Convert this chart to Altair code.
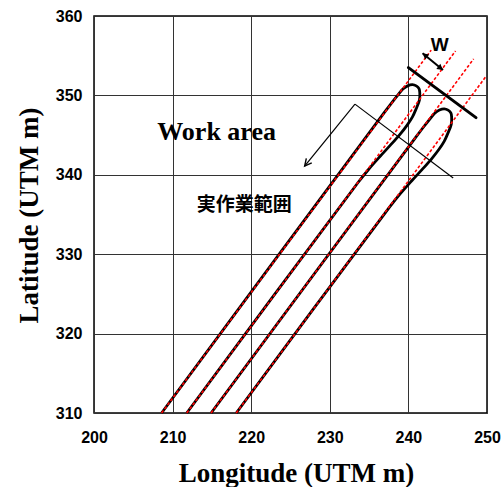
import altair as alt
import pandas as pd

X_TICKS = [200, 210, 220, 230, 240, 250]
Y_TICKS = [310, 320, 330, 340, 350, 360]

# Driven path, pass A: up the first swath, bulb turn in the headland, down the second
pass_a_x = [208.6, 236.9, 237.9, 238.7, 239.3, 239.9, 240.5, 241.0, 241.35, 241.45, 241.4,
            240.98, 240.52, 239.8, 238.85, 237.68, 236.38, 234.95, 233.57, 211.8]
pass_a_y = [310.0, 347.8, 349.1, 350.1, 350.8, 351.2, 351.35, 351.2, 350.85, 350.3, 349.4,
            348.3, 347.3, 346.2, 345.0, 343.7, 342.3, 340.7, 339.0, 310.0]

# Driven path, pass B: up the third swath, turn, down the fourth
pass_b_x = [214.9, 240.95, 241.95, 242.75, 243.35, 243.95, 244.55, 245.05, 245.4, 245.5, 245.45,
            245.03, 244.57, 243.85, 242.9, 241.73, 240.43, 239.0, 237.62, 218.1]
pass_b_y = [310.0, 344.75, 346.05, 347.05, 347.75, 348.15, 348.3, 348.15, 347.8, 347.25, 346.35,
            345.25, 344.25, 343.15, 341.95, 340.65, 339.25, 337.65, 335.95, 310.0]

# Planned guidance lines (one per swath)
guide_x_start = [208.6, 211.8, 214.9, 218.1]
guide_y_start = [310.0, 310.0, 310.0, 310.0]
guide_x_end = [242.9, 246.0, 248.3, 249.8]
guide_y_end = [355.7, 355.6, 354.6, 352.3]

# Field edge at the headland
edge_x = [240.0, 248.6]
edge_y = [353.5, 347.2]

# Swath-width marker
width_x = [241.8, 244.4]
width_y = [355.3, 353.2]
width_label = "W"
width_label_pos = (244.0, 356.3)

# Work-area pointer: a cross line and an arrow toward the label
pointer_x = [233.2, 245.7, 226.8]
pointer_y = [348.9, 339.6, 341.1]

label_en = "Work area"
label_en_pos = (215.6, 344.4)
label_ja = "実作業範囲"
label_ja_pos = (219.1, 336.2)

xs = alt.Scale(domain=[200, 250], nice=False, zero=False)
ys = alt.Scale(domain=[310, 360], nice=False, zero=False)

x_axis = alt.Axis(values=X_TICKS, title="Longitude (UTM m)", titleX=202, titleY=68,
                  titleBaseline="alphabetic", titleAlign="center", labelPadding=16)
y_axis = alt.Axis(values=Y_TICKS, title="Latitude (UTM m)", titleX=-57, titleY=199,
                  titleBaseline="alphabetic", titleAlign="center", labelPadding=12)

paths = pd.DataFrame({
    "x": pass_a_x + pass_b_x,
    "y": pass_a_y + pass_b_y,
    "step": list(range(len(pass_a_x))) + list(range(len(pass_b_x))),
    "run": ["A"] * len(pass_a_x) + ["B"] * len(pass_b_x),
})

guides = pd.DataFrame({"x": guide_x_start, "y": guide_y_start,
                       "x2": guide_x_end, "y2": guide_y_end})

edge = pd.DataFrame({"x": [edge_x[0]], "y": [edge_y[0]], "x2": [edge_x[1]], "y2": [edge_y[1]]})

pointer = pd.DataFrame({"x": [pointer_x[0], pointer_x[0]], "y": [pointer_y[0], pointer_y[0]],
                        "x2": [pointer_x[1], pointer_x[2]], "y2": [pointer_y[1], pointer_y[2]]})
pointer_head = pd.DataFrame({"x": [pointer_x[2]], "y": [pointer_y[2]], "a": [219]})

width_seg = pd.DataFrame({"x": [width_x[0]], "y": [width_y[0]], "x2": [width_x[1]], "y2": [width_y[1]]})
width_heads = pd.DataFrame({"x": width_x, "y": width_y, "a": [308, 128]})

texts = pd.DataFrame({
    "x": [width_label_pos[0], label_en_pos[0]],
    "y": [width_label_pos[1], label_en_pos[1]],
    "t": [width_label, label_en],
})
text_ja = pd.DataFrame({"x": [label_ja_pos[0]], "y": [label_ja_pos[1]], "t": [label_ja]})

base_x = alt.X("x:Q", scale=xs, axis=x_axis)
base_y = alt.Y("y:Q", scale=ys, axis=y_axis)

path_layer = alt.Chart(paths).mark_line(
    interpolate="catmull-rom", color="black", strokeWidth=2.8, strokeJoin="round"
).encode(x=base_x, y=base_y, detail="run:N", order="step:Q")

guide_layer = alt.Chart(guides).mark_rule(
    color="#ff0000", strokeWidth=1.6, strokeDash=[3, 2]
).encode(x=base_x, y=base_y, x2="x2:Q", y2="y2:Q")

edge_layer = alt.Chart(edge).mark_rule(
    color="black", strokeWidth=3, strokeCap="round"
).encode(x=base_x, y=base_y, x2="x2:Q", y2="y2:Q")

pointer_layer = alt.Chart(pointer).mark_rule(color="black", strokeWidth=1.2).encode(
    x=base_x, y=base_y, x2="x2:Q", y2="y2:Q")

pointer_head_layer = alt.Chart(pointer_head).mark_point(
    shape="M-0.45,0.9L0,0L0.45,0.9", filled=False, color="black", strokeWidth=1.4,
    size=240, opacity=1
).encode(x=base_x, y=base_y, angle=alt.Angle("a:Q", scale=None))

width_layer = alt.Chart(width_seg).mark_rule(color="black", strokeWidth=2).encode(
    x=base_x, y=base_y, x2="x2:Q", y2="y2:Q")

width_head_layer = alt.Chart(width_heads).mark_point(
    shape="M0,0L0.55,1L-0.55,1Z", filled=True, color="black", size=140, opacity=1
).encode(x=base_x, y=base_y, angle=alt.Angle("a:Q", scale=None))

w_text = alt.Chart(texts.iloc[[0]]).mark_text(
    font="Liberation Sans", fontWeight="bold", fontSize=19, color="black", baseline="middle"
).encode(x=base_x, y=base_y, text="t:N")

en_text = alt.Chart(texts.iloc[[1]]).mark_text(
    font="Liberation Serif", fontWeight="bold", fontSize=26, color="black", baseline="alphabetic"
).encode(x=base_x, y=base_y, text="t:N")

ja_text = alt.Chart(text_ja).mark_text(
    font="Noto Sans CJK JP", fontWeight="bold", fontSize=19, color="black", baseline="middle"
).encode(x=base_x, y=base_y, text="t:N")

chart = alt.layer(
    path_layer, guide_layer, edge_layer, pointer_layer, pointer_head_layer,
    width_layer, width_head_layer, w_text, en_text, ja_text
).properties(
    width=393, height=397,
    autosize=alt.AutoSizeParams(type="none"),
    padding={"left": 94, "top": 16, "right": 15, "bottom": 74},
).configure_view(
    stroke="black", strokeWidth=1.5
).configure_axis(
    grid=True, gridColor="#333333", gridWidth=1, domain=False, ticks=False,
    labelFont="Liberation Sans", labelFontWeight="bold", labelFontSize=16, labelColor="black",
    titleFont="Liberation Serif", titleFontWeight="bold", titleFontSize=27, titleColor="black",
    labelFlush=False,
)

chart.save("out.html", embed_options={"renderer": "svg", "actions": False})
